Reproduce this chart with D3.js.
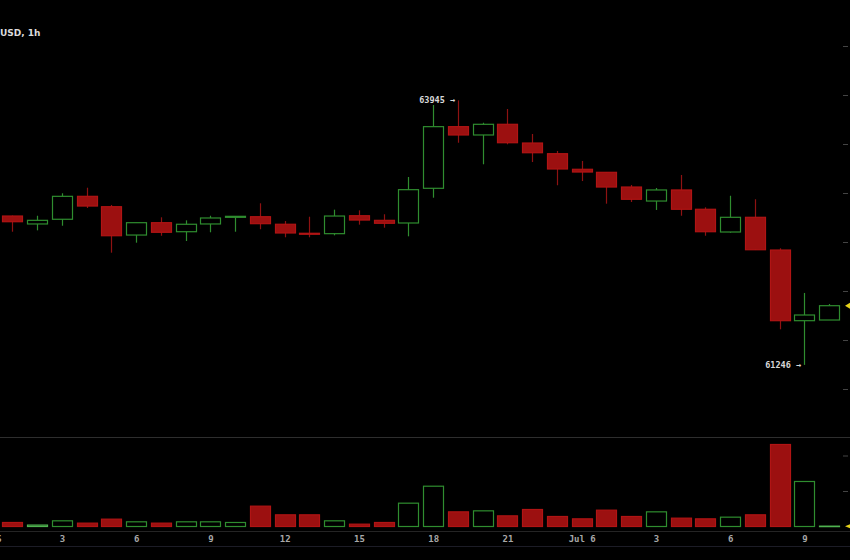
<!DOCTYPE html>
<html>
<head>
<meta charset="utf-8">
<script src="https://cdn.jsdelivr.net/npm/d3@7"></script>
<style>
  html, body { margin: 0; padding: 0; background: #000; }
  svg { display: block; }
</style>
</head>
<body>
<svg id="chart" width="850" height="560"></svg>
<script>
// ---------- data (BTC/USD hourly, Jul 5 01:00 .. Jul 6 10:00) ----------
const titleText = "USD, 1h";
const opens  = [62765,62684,62732,62966,62860,62571,62697,62605,62684,62752,62758,62681,62589,62585,62768,62721,62694,63048,63677,63592,63701,63510,63401,63242,63211,63061,62918,63031,62834,62602,62752,62418,61697,61704];
const highs  = [62770,62768,62997,63054,62878,62697,62752,62721,62768,62765,62895,62714,62758,62830,62823,62783,63163,63898,63945,63717,63857,63602,63429,63327,63214,63082,63051,63184,62854,62972,62936,62436,61980,61867];
const lows   = [62605,62619,62666,62847,62391,62493,62564,62510,62599,62605,62630,62548,62548,62568,62677,62646,62558,62952,63513,63293,63497,63316,63079,63122,62891,62908,62827,62768,62564,62595,62418,61609,61246,61704];
const closes = [62707,62721,62966,62867,62564,62697,62599,62681,62745,62762,62687,62592,62582,62765,62724,62691,63034,63677,63592,63701,63513,63411,63245,63214,63061,62936,63031,62834,62605,62752,62421,61697,61755,61850];
const volumes= [113,40,160,95,207,132,95,132,132,113,573,329,329,160,66,113,657,1135,413,441,300,479,282,216,460,282,413,235,216,263,329,2310,1268,10];
const xTickLabels = ["Jul 5","3","6","9","12","15","18","21","Jul 6","3","6","9"];
const priceTicks = [61000,61500,62000,62500,63000,63500,64000,64500];
const volumeTicks = [1000,2000];
const highLabel = "63945 \u2192";
const lowLabel = "61246 \u2192";

const startTime = new Date(Date.UTC(2024, 6, 5, 0, 0));
const endTime = new Date(Date.UTC(2024, 6, 6, 10, 0));
const candles = opens.map((o, i) => ({
  t: d3.utcHour.offset(startTime, i + 1),
  o, h: highs[i], l: lows[i], c: closes[i], v: volumes[i]
}));

// ---------- colors ----------
const RED_FILL = "#9c1010";
const RED_STROKE = "#b01414";
const RED_WICK = "#8e1212";
const GREEN = "#2f8d2f";

// ---------- scales ----------
const svg = d3.select("#chart");
svg.append("rect").attr("width", 850).attr("height", 560).attr("fill", "#000");

const x = d3.scaleUtc().domain([startTime, endTime]).range([-12.3, 829.2]);
const y = d3.scaleLinear().domain([61000, 64500]).range([389, 46]);
const yv = d3.scaleLinear().domain([0, 2000]).range([526.5, 455.5]);
const bodyW = 20;

// ---------- title ----------
svg.append("text").attr("x", 0).attr("y", 36)
  .attr("font-family", "DejaVu Sans, sans-serif").attr("font-size", 9)
  .attr("font-weight", "bold")
  .attr("fill", "#dcdcdc").text(titleText);

// ---------- candles ----------
const cg = svg.append("g");
const cand = cg.selectAll("g.c").data(candles).join("g").attr("class", "c");
cand.append("line")
  .attr("x1", d => Math.round(x(d.t)) + 0.5).attr("x2", d => Math.round(x(d.t)) + 0.5)
  .attr("y1", d => y(d.h)).attr("y2", d => y(d.l))
  .attr("stroke", d => d.c >= d.o ? GREEN : RED_WICK).attr("stroke-width", 1.2);
cand.append("rect")
  .attr("x", d => Math.round(x(d.t)) - bodyW / 2 + 0.5)
  .attr("width", bodyW)
  .attr("y", d => y(Math.max(d.o, d.c)))
  .attr("height", d => Math.max(1, Math.abs(y(d.o) - y(d.c))))
  .attr("fill", d => d.c >= d.o ? "#000" : RED_FILL)
  .attr("stroke", d => d.c >= d.o ? GREEN : RED_STROKE)
  .attr("stroke-width", 1.2);

// high / low labels
const hiIdx = highs.indexOf(d3.max(highs));
const loIdx = lows.indexOf(d3.min(lows));
svg.append("text").attr("x", Math.round(x(candles[hiIdx].t)) - 3).attr("y", y(highs[hiIdx]) + 3)
  .attr("text-anchor", "end").attr("font-family", "DejaVu Sans Mono, monospace")
  .attr("font-size", 8.5).attr("font-weight", "bold").attr("fill", "#d8d8d8").text(highLabel);
svg.append("text").attr("x", Math.round(x(candles[loIdx].t)) - 3).attr("y", y(lows[loIdx]) + 3)
  .attr("text-anchor", "end").attr("font-family", "DejaVu Sans Mono, monospace")
  .attr("font-size", 8.5).attr("font-weight", "bold").attr("fill", "#d8d8d8").text(lowLabel);

// ---------- volume ----------
svg.append("line").attr("x1", 0).attr("x2", 850).attr("y1", 437.5).attr("y2", 437.5)
  .attr("stroke", "#2e2e2e").attr("stroke-width", 1);
svg.append("g").selectAll("rect").data(candles).join("rect")
  .attr("x", d => Math.round(x(d.t)) - bodyW / 2 + 0.5)
  .attr("width", bodyW)
  .attr("y", d => yv(d.v))
  .attr("height", d => Math.max(0.5, yv(0) - yv(d.v)))
  .attr("fill", d => d.c >= d.o ? "#000" : RED_FILL)
  .attr("stroke", d => d.c >= d.o ? (d.v < 50 ? "#4fb34f" : GREEN) : RED_STROKE)
  .attr("stroke-width", 1.2);

// ---------- right axes (labels fall outside the visible window) ----------
const rAxis = svg.append("g").attr("transform", "translate(843,0)")
  .call(d3.axisRight(y).tickValues(priceTicks).tickSize(5).tickFormat(""));
rAxis.select(".domain").remove();
rAxis.selectAll("line").attr("stroke", "#444");
const vAxis = svg.append("g").attr("transform", "translate(843,0)")
  .call(d3.axisRight(yv).tickValues(volumeTicks).tickSize(5).tickFormat(""));
vAxis.select(".domain").remove();
vAxis.selectAll("line").attr("stroke", "#444");

// last price / last volume markers
const last = candles[candles.length - 1];
svg.append("path")
  .attr("d", `M845,${y(last.c)} L850,${y(last.c) - 3} L850,${y(last.c) + 3} Z`)
  .attr("fill", "#e6d21a");
svg.append("path")
  .attr("d", `M845,${yv(last.v)} L850,${yv(last.v) - 2} L850,${yv(last.v) + 2} Z`)
  .attr("fill", "#e6d21a");

// ---------- bottom time axis ----------
svg.append("line").attr("x1", 0).attr("x2", 850).attr("y1", 531.5).attr("y2", 531.5)
  .attr("stroke", "#242424");
svg.append("line").attr("x1", 0).attr("x2", 850).attr("y1", 546.5).attr("y2", 546.5)
  .attr("stroke", "#1c1c26");
const tickTimes = d3.utcHour.every(3).range(startTime, d3.utcHour.offset(endTime, 1));
const xAxis = svg.append("g").attr("transform", "translate(0,532)")
  .call(d3.axisBottom(x).tickValues(tickTimes).tickSize(0).tickPadding(4)
    .tickFormat((d, i) => xTickLabels[i]));
xAxis.select(".domain").remove();
xAxis.selectAll("text").attr("fill", "#a8a8a8")
  .attr("font-family", "DejaVu Sans Mono, monospace").attr("font-size", 9)
  .attr("font-weight", "bold");
</script>
</body>
</html>
